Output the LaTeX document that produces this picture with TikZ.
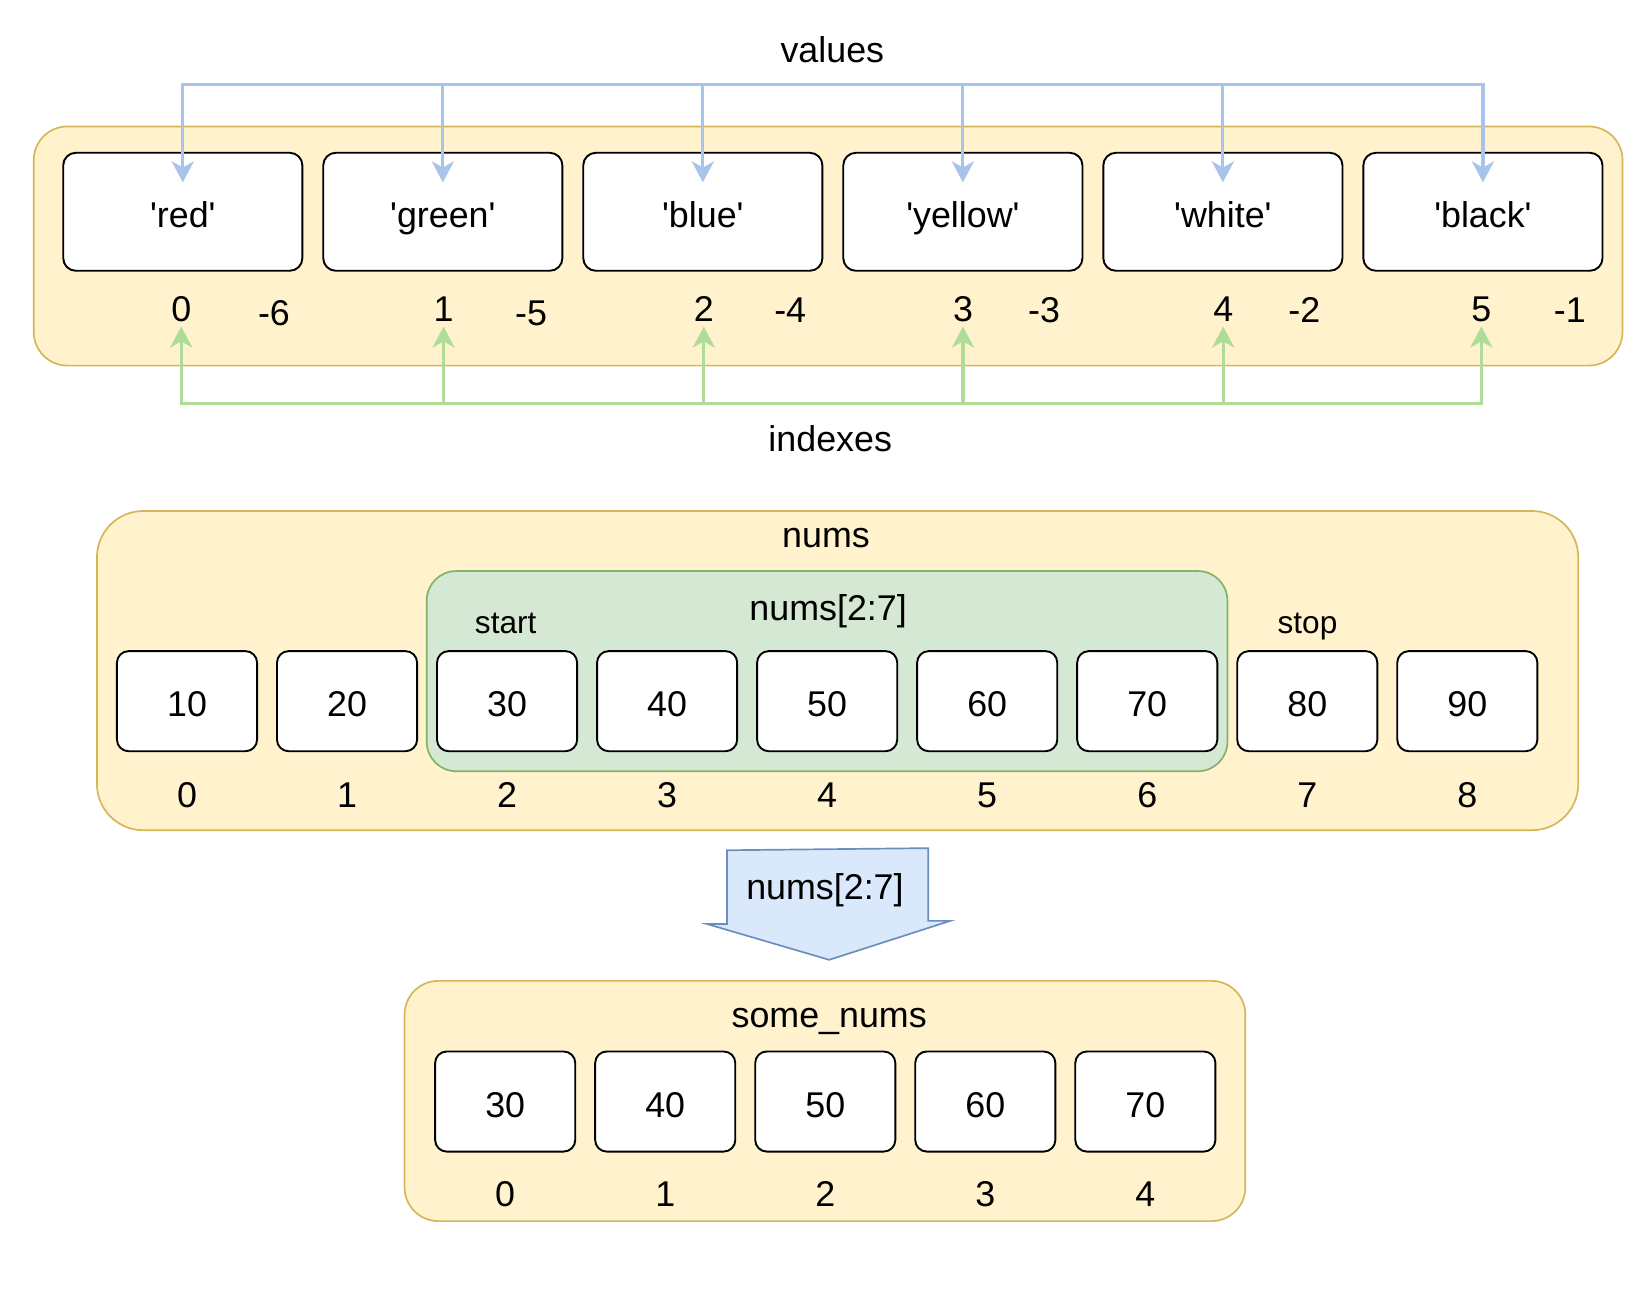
\documentclass[tikz,border=0pt]{standalone}
\usepackage{fontspec}
\setmainfont{Liberation Sans}[Ligatures=TeXOff]
\usepackage{tikz}
\usetikzlibrary{arrows.meta}

\definecolor{listfill}{HTML}{FFF2CC}
\definecolor{listline}{HTML}{D6B656}
\definecolor{slicefill}{HTML}{D5E8D4}
\definecolor{sliceline}{HTML}{82B366}
\definecolor{arrfill}{HTML}{DAE8FC}
\definecolor{arrline}{HTML}{6C8EBF}
\definecolor{valblue}{HTML}{A9C4EB}
\definecolor{idxgreen}{HTML}{B0DC9A}

\begin{document}
\begin{tikzpicture}[x=0.5pt,y=-0.5pt,font=\fontsize{17}{20}\selectfont,
    listbg/.style={draw=listline,fill=listfill,line width=0.8pt},
    slicebg/.style={draw=sliceline,fill=slicefill,line width=0.8pt,rounded corners=14pt},
    item/.style={draw,fill=white,line width=0.9pt,rounded corners=6pt,minimum width=113.5pt,minimum height=56pt,inner sep=0pt,text height=15pt,text depth=0pt},
    cell/.style={draw,fill=white,line width=0.9pt,rounded corners=5.5pt,minimum width=66.5pt,minimum height=47.5pt,inner sep=0pt,text height=15pt,text depth=0pt},
    lbl/.style={inner sep=2pt,text height=12.5pt,text depth=0pt},
    small/.style={inner sep=2pt,text height=11pt,text depth=0pt,font=\fontsize{15}{18}\selectfont},
    valarrow/.style={draw=valblue,line width=1.5pt,-{Stealth[length=10pt,width=10.5pt,inset=3pt]}},
    idxarrow/.style={draw=idxgreen,line width=1.5pt,-{Stealth[length=10pt,width=10.5pt,inset=3pt]}}]
            \useasboundingbox (0,0) rectangle (1568,1239);

            % colours list
            \draw[listbg,rounded corners=16pt] (32,120) rectangle (1540,347);
            \node[lbl] (values) at (790,47) {values};
            \coordinate (vbus) at (790,80);

            \node[item] (red) at (173.5,201) {'red'};
            \node[item] (green) at (420.3,201) {'green'};
            \node[item] (blue) at (667.1,201) {'blue'};
            \node[item] (yellow) at (913.9,201) {'yellow'};
            \node[item] (white) at (1160.7,201) {'white'};
            \node[item] (black) at (1407.5,201) {'black'};

            \node[lbl] (p0) at (172,293) {0};
            \node[lbl] (n6) at (260,296) {-6};
            \node[lbl] (p1) at (421,293) {1};
            \node[lbl] (n5) at (504,296) {-5};
            \node[lbl] (p2) at (668,293) {2};
            \node[lbl] (n4) at (750,294) {-4};
            \node[lbl] (p3) at (914,293) {3};
            \node[lbl] (n3) at (991,294) {-3};
            \node[lbl] (p4) at (1161,293) {4};
            \node[lbl] (n2) at (1238,294) {-2};
            \node[lbl] (p5) at (1406,293) {5};
            \node[lbl] (n1) at (1490,294) {-1};

            \draw[valarrow] (vbus) -| ([yshift=-14.5pt]red.north);
            \draw[valarrow] (vbus) -| ([yshift=-14.5pt]green.north);
            \draw[valarrow] (vbus) -| ([yshift=-14.5pt]blue.north);
            \draw[valarrow] (vbus) -| ([yshift=-14.5pt]yellow.north);
            \draw[valarrow] (vbus) -| ([yshift=-14.5pt]white.north);
            \draw[valarrow] (vbus) -| ([yshift=-14.5pt]black.north);

            \coordinate (ibus) at (788,383);
            \node[lbl] (indexes) at (788,416) {indexes};
            \draw[idxarrow] (ibus) -| (p0.south);
            \draw[idxarrow] (ibus) -| (p1.south);
            \draw[idxarrow] (ibus) -| (p2.south);
            \draw[idxarrow] (ibus) -| (p3.south);
            \draw[idxarrow] (ibus) -| (p4.south);
            \draw[idxarrow] (ibus) -| (p5.south);

            % nums and the slice
            \draw[listbg,rounded corners=22pt] (92,485) rectangle (1498,788);
            \node[lbl] (nums) at (784,507) {nums};
            \draw[slicebg] (405,542) rectangle (1165,732);
            \node[lbl] (slice) at (786,576) {nums[2:7]};
            \node[small] (start) at (480,590) {start};
            \node[small] (stop) at (1241,590) {stop};

            \node[cell] (c0) at (177.5,665.5) {10};
            \node[cell] (c1) at (329.4,665.5) {20};
            \node[cell] (c2) at (481.3,665.5) {30};
            \node[cell] (c3) at (633.2,665.5) {40};
            \node[cell] (c4) at (785.1,665.5) {50};
            \node[cell] (c5) at (937.0,665.5) {60};
            \node[cell] (c6) at (1088.9,665.5) {70};
            \node[cell] (c7) at (1240.8,665.5) {80};
            \node[cell] (c8) at (1392.7,665.5) {90};

            \node[lbl] (q0) at (177.5,754) {0};
            \node[lbl] (q1) at (329.4,754) {1};
            \node[lbl] (q2) at (481.3,754) {2};
            \node[lbl] (q3) at (633.2,754) {3};
            \node[lbl] (q4) at (785.1,754) {4};
            \node[lbl] (q5) at (937.0,754) {5};
            \node[lbl] (q6) at (1088.9,754) {6};
            \node[lbl] (q7) at (1240.8,754) {7};
            \node[lbl] (q8) at (1392.7,754) {8};

            % slicing arrow
            \draw[draw=arrline,fill=arrfill,line width=0.8pt] (690,807) -- (881,805) -- (881,874) -- (902,874)
                -- (787,911) -- (671,877) -- (690,877) -- cycle;
            \node[lbl] (op) at (783,841) {nums[2:7]};

            % result
            \draw[listbg,rounded corners=16pt] (384,931) rectangle (1182,1159);
            \node[lbl] (some) at (787,963) {some\_nums};

            \node[cell] (d0) at (479.5,1045.5) {30};
            \node[cell] (d1) at (631.4,1045.5) {40};
            \node[cell] (d2) at (783.3,1045.5) {50};
            \node[cell] (d3) at (935.2,1045.5) {60};
            \node[cell] (d4) at (1087.1,1045.5) {70};

            \node[lbl] (r0) at (479.5,1133) {0};
            \node[lbl] (r1) at (631.4,1133) {1};
            \node[lbl] (r2) at (783.3,1133) {2};
            \node[lbl] (r3) at (935.2,1133) {3};
            \node[lbl] (r4) at (1087.1,1133) {4};

\end{tikzpicture}
\end{document}
